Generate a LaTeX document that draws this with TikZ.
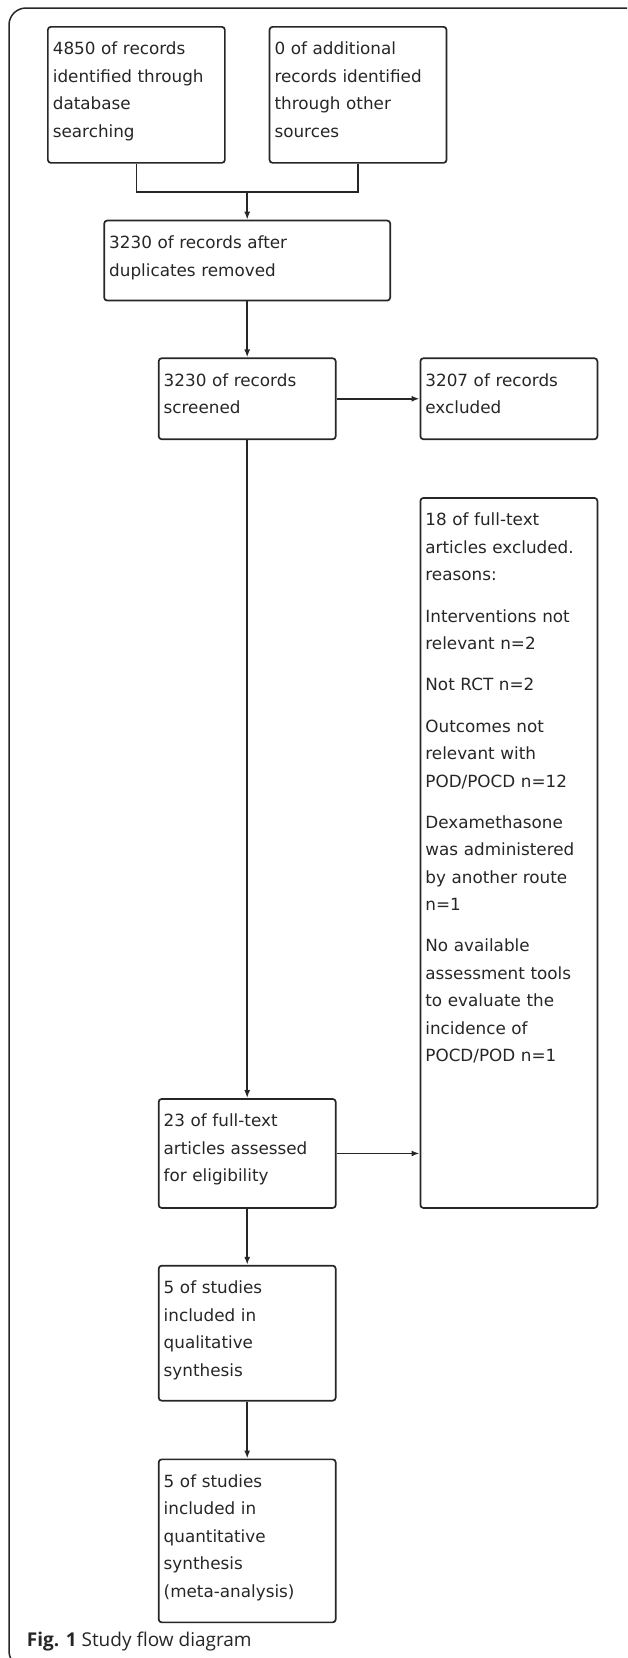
\documentclass[tikz,border=0pt]{standalone}
\usepackage{fontspec}
\setmainfont{DejaVu Sans}
\newfontfamily\capfont{Open Sans}
\usetikzlibrary{arrows.meta}
\usetikzlibrary{positioning}
\usetikzlibrary{calc}
\newcommand{\recfont}{\fontsize{16.8pt}{27.5pt}\selectfont}
\tikzstyle{record} = [rectangle, draw=black!85, text=black!85, rounded corners=3pt, align=left, text width=167pt, inner xsep=5pt, inner ysep=0pt, text height=28pt, font=\recfont]
\tikzstyle{wide} = [text width=276pt]

\begin{document}
\begin{tikzpicture}[x=1pt,y=-1pt,line width=1.7pt]
		\useasboundingbox (0,0) rectangle (627,1658);
		\clip (0,0) rectangle (627,1658);
		\draw[draw=black!85, line width=1.5pt, rounded corners=17pt] (9,8) rectangle (660,1668);

		\node [record, text depth=108pt, anchor=north west] (A) at (47,26) {4850 of records\\identified through\\database\\searching};
		\node [record, text depth=108pt, right=43pt of A] (B) {0 of additional\\records identified\\through other\\sources};
		\coordinate (AB) at ($(A.south)!0.5!(B.south)$);
		\coordinate (J) at ($(AB)+(0,28)$);
		\node [record, wide, text depth=52pt, below=56pt of AB] (C) {3230 of records after\\duplicates removed};
		\node [record, text depth=53pt, below=56pt of C] (D) {3230 of records\\screened};
		\node [record, text depth=53pt, right=83pt of D] (E) {3207 of records\\excluded};
		\node [record, text depth=682pt, below=57pt of E] (F) {18 of full-text\\articles excluded.\\reasons:\\[13.7pt]Interventions not\\relevant n=2\\[13.7pt]Not RCT n=2\\[13.7pt]Outcomes not\\relevant with\\POD/POCD n=12\\[13.7pt]Dexamethasone\\was administered\\by another route\\n=1\\[13.7pt]No available\\assessment tools\\to evaluate the\\incidence of\\POCD/POD n=1};
		\node [record, text depth=81pt, anchor=south] (G) at (D |- F.south) {23 of full-text\\articles assessed\\for eligibility};
		\node [record, text depth=107pt, below=56pt of G] (H) {5 of studies\\included in\\qualitative\\synthesis};
		\node [record, text depth=135pt, below=57pt of H] (I) {5 of studies\\included in\\quantitative\\synthesis\\(meta-analysis)};

		% caption
		\node [anchor=base west, inner sep=0pt, text=black!85, font=\capfont\fontsize{19pt}{22pt}\selectfont] (fig) at (26,1646) {\textbf{Fig. 1} Study flow diagram};

		% connections
		\draw[draw=black!85] (A.south) |- (J) -| (B.south);
		\draw[draw=black!85, -{Latex[length=8pt, width=6pt]}] (J) -- (C);
		\draw[draw=black!85, -{Latex[length=8pt, width=6pt]}] (C) -- (D);
		\draw[draw=black!85, -{Latex[length=8pt, width=6pt]}] (D) -- (E);
		\draw[draw=black!85, -{Latex[length=8pt, width=6pt]}] (D) -- (G);
		\draw[draw=black!85, -{Latex[length=8pt, width=6pt]}] (G.east) -- (G.east -| F.west);
		\draw[draw=black!85, -{Latex[length=8pt, width=6pt]}] (G) -- (H);
		\draw[draw=black!85, -{Latex[length=8pt, width=6pt]}] (H) -- (I);
\end{tikzpicture}
\end{document}
